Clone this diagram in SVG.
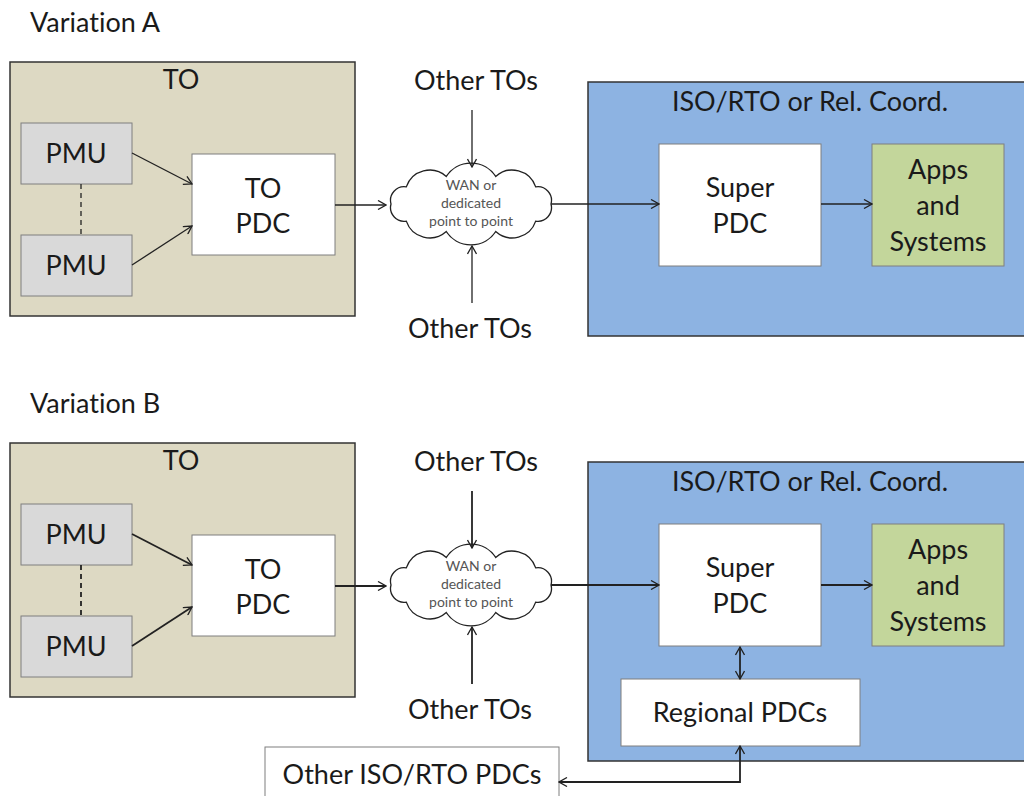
<svg xmlns="http://www.w3.org/2000/svg" width="1024" height="796" viewBox="0 0 1024 796">
<style>
text{font-family:Lato,"Liberation Sans",sans-serif;fill:#1a1a1a;text-anchor:middle;font-variant-ligatures:none}
.t{font-size:27px}
.h{font-size:27px;text-anchor:start}
.c{font-size:14px;fill:#555}
.to{fill:#ddd9c3;stroke:#333;stroke-width:1.5}
.iso{fill:#8db3e2;stroke:#333;stroke-width:1.5}
.pmu{fill:#d9d9d9;stroke:#7f7f7f;stroke-width:1}
.w{fill:#fff;stroke:#7f7f7f;stroke-width:1}
.g{fill:#c3d69b;stroke:#7f7f7f;stroke-width:1}
.cl{fill:#fff;stroke:#222;stroke-width:1.3}
.ln{fill:none;stroke:#222;stroke-width:1.3}
.lb{fill:none;stroke:#222;stroke-width:1.8}
.a{marker-end:url(#ah)}
.d{stroke-dasharray:5,4}
</style>
<defs>
<marker id="ah" viewBox="0 0 10 10" refX="9" refY="5" markerWidth="10" markerHeight="10" markerUnits="userSpaceOnUse" orient="auto-start-reverse">
<path d="M1,0.5 L9,5 L1,9.5" fill="none" stroke="#222" stroke-width="1.3"/>
</marker>
</defs>

<text class="h" x="30" y="32">Variation A</text>
<text class="h" x="30" y="413">Variation B</text>

<!-- Variation A -->
<g id="toA"><rect class="to" x="10" y="62" width="345" height="254"/><text class="t" x="181" y="89">TO</text></g>
<g id="pmuA1"><rect class="pmu" x="21" y="123" width="111" height="61"/><text class="t" x="76" y="163">PMU</text></g>
<g id="pmuA2"><rect class="pmu" x="21" y="235" width="111" height="61"/><text class="t" x="76" y="275">PMU</text></g>
<g id="topdcA"><rect class="w" x="192" y="154" width="143" height="101"/><text class="t" x="263" y="198">TO</text><text class="t" x="263" y="233">PDC</text></g>
<g id="cloudA"><path class="cl" d="M391,204 A13.7,13.7 0 0 1 406.3,186.9 A24.8,24.8 0 0 1 446.3,176.4 A29.6,29.6 0 0 1 495.7,176.4 A24.8,24.8 0 0 1 535.7,186.9 A13.7,13.7 0 0 1 551,204 A13.7,13.7 0 0 1 535.7,221.1 A24.8,24.8 0 0 1 495.7,231.6 A29.6,29.6 0 0 1 446.3,231.6 A24.8,24.8 0 0 1 406.3,221.1 A13.7,13.7 0 0 1 391,204 Z"/>
<text class="c" x="471" y="190">WAN or</text><text class="c" x="471" y="208">dedicated</text><text class="c" x="471" y="226">point to point</text></g>
<g id="otherA1"><text class="t" x="476" y="90">Other TOs</text></g>
<g id="otherA2"><text class="t" x="470" y="338">Other TOs</text></g>
<g id="isoA"><rect class="iso" x="588" y="82" width="445" height="254"/><text class="t" x="810" y="111">ISO/RTO or Rel. Coord.</text></g>
<g id="superA"><rect class="w" x="659" y="144" width="162" height="122"/><text class="t" x="740" y="197">Super</text><text class="t" x="740" y="233">PDC</text></g>
<g id="appsA"><rect class="g" x="872" y="144" width="132" height="122"/><text class="t" x="938" y="179">Apps</text><text class="t" x="938" y="215">and</text><text class="t" x="938" y="251">Systems</text></g>

<!-- Variation B -->
<g id="toB"><rect class="to" x="10" y="443" width="345" height="254"/><text class="t" x="181" y="470">TO</text></g>
<g id="pmuB1"><rect class="pmu" x="21" y="504" width="111" height="61"/><text class="t" x="76" y="544">PMU</text></g>
<g id="pmuB2"><rect class="pmu" x="21" y="616" width="111" height="61"/><text class="t" x="76" y="656">PMU</text></g>
<g id="topdcB"><rect class="w" x="192" y="535" width="143" height="101"/><text class="t" x="263" y="579">TO</text><text class="t" x="263" y="614">PDC</text></g>
<g id="cloudB"><path class="cl" d="M391,585 A13.7,13.7 0 0 1 406.3,567.9 A24.8,24.8 0 0 1 446.3,557.4 A29.6,29.6 0 0 1 495.7,557.4 A24.8,24.8 0 0 1 535.7,567.9 A13.7,13.7 0 0 1 551,585 A13.7,13.7 0 0 1 535.7,602.1 A24.8,24.8 0 0 1 495.7,612.6 A29.6,29.6 0 0 1 446.3,612.6 A24.8,24.8 0 0 1 406.3,602.1 A13.7,13.7 0 0 1 391,585 Z"/>
<text class="c" x="471" y="571">WAN or</text><text class="c" x="471" y="589">dedicated</text><text class="c" x="471" y="607">point to point</text></g>
<g id="otherB1"><text class="t" x="476" y="471">Other TOs</text></g>
<g id="otherB2"><text class="t" x="470" y="719">Other TOs</text></g>
<g id="isoB"><rect class="iso" x="588" y="462" width="445" height="299"/><text class="t" x="810" y="491">ISO/RTO or Rel. Coord.</text></g>
<g id="superB"><rect class="w" x="659" y="524" width="162" height="122"/><text class="t" x="740" y="577">Super</text><text class="t" x="740" y="613">PDC</text></g>
<g id="appsB"><rect class="g" x="872" y="524" width="132" height="122"/><text class="t" x="938" y="559">Apps</text><text class="t" x="938" y="595">and</text><text class="t" x="938" y="631">Systems</text></g>
<g id="regional"><rect class="w" x="621" y="679" width="239" height="67"/><text class="t" x="740" y="722">Regional PDCs</text></g>
<g id="otheriso"><rect class="w" x="265" y="747" width="294" height="60"/><text class="t" x="412" y="784">Other ISO/RTO PDCs</text></g>

<g id="connectors">
<line class="ln d" x1="81" y1="184" x2="81" y2="235"/>
<line class="ln a" x1="132" y1="153" x2="192" y2="184"/>
<line class="ln a" x1="132" y1="265" x2="192" y2="226"/>
<line class="ln a" x1="335" y1="205" x2="386" y2="205"/>
<line class="ln a" x1="472" y1="110" x2="472" y2="167"/>
<line class="ln a" x1="472" y1="303" x2="472" y2="246"/>
<line class="ln a" x1="551" y1="204" x2="659" y2="204"/>
<line class="ln a" x1="821" y1="204" x2="872" y2="204"/>

<line class="lb d" x1="81" y1="565" x2="81" y2="616"/>
<line class="lb a" x1="132" y1="534" x2="192" y2="565"/>
<line class="lb a" x1="132" y1="646" x2="192" y2="607"/>
<line class="lb a" x1="335" y1="586" x2="386" y2="586"/>
<line class="lb a" x1="472" y1="491" x2="472" y2="548"/>
<line class="lb a" x1="472" y1="684" x2="472" y2="627"/>
<line class="lb a" x1="551" y1="585" x2="659" y2="585"/>
<line class="lb a" x1="821" y1="585" x2="872" y2="585"/>
<line class="lb a" x1="740" y1="647" x2="740" y2="679" style="marker-start:url(#ah)"/>
<polyline class="lb a" points="740,746 740,782 559,782" style="marker-start:url(#ah)"/>
</g>
</svg>
